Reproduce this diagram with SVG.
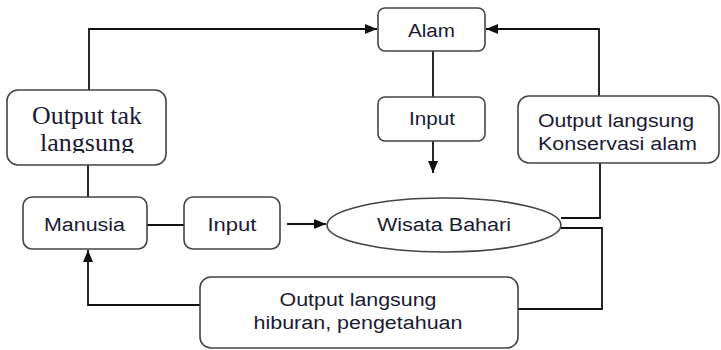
<svg xmlns="http://www.w3.org/2000/svg" width="721" height="350" viewBox="0 0 721 350">
<style>
.box{fill:#fff;stroke:#444;stroke-width:1.6}
.ln{fill:none;stroke:#111;stroke-width:1.8}
.t{font-family:"Liberation Sans",Arial,sans-serif;font-size:18px;fill:#1a1a33;text-anchor:middle}
.s{font-family:"Liberation Serif","Times New Roman",serif;font-size:26px;fill:#1a1a33;text-anchor:middle}
</style>
<defs>
<marker id="ah" viewBox="0 0 12 10" refX="12" refY="5" markerWidth="12" markerHeight="10" markerUnits="userSpaceOnUse" orient="auto">
<path d="M0,0 L12,5 L0,10 Z" fill="#111"/>
</marker>
<clipPath id="clipOT"><rect x="0" y="85" width="180" height="68"/></clipPath>
</defs>
<rect width="721" height="350" fill="#fff"/>
<g id="connectors">
<path class="ln" d="M89,90 V29 H377" marker-end="url(#ah)"/>
<path class="ln" d="M88,197 V165"/>
<path class="ln" d="M433,51 V97"/>
<path class="ln" d="M433,141 V173" marker-end="url(#ah)"/>
<path class="ln" d="M599,96 V29 H486" marker-end="url(#ah)"/>
<path class="ln" d="M561,218 H600 V163"/>
<path class="ln" d="M561,228 H602 V309 H518"/>
<path class="ln" d="M200,305 H88 V250" marker-end="url(#ah)"/>
<path class="ln" d="M147,225 H184"/>
<path class="ln" d="M287,224 H326" marker-end="url(#ah)"/>
</g>
<g id="alam">
<rect class="box" x="378" y="8" width="107" height="43" rx="7"/>
<text class="t" x="431.5" y="37" textLength="47" lengthAdjust="spacingAndGlyphs">Alam</text>
</g>
<g id="input-top">
<rect class="box" x="378" y="97" width="107" height="44" rx="7"/>
<text class="t" x="432" y="125" textLength="46" lengthAdjust="spacingAndGlyphs">Input</text>
</g>
<g id="output-tak-langsung">
<rect class="box" x="7" y="90" width="159" height="75" rx="11"/>
<g clip-path="url(#clipOT)">
<text class="s" x="87" y="124" textLength="110" lengthAdjust="spacingAndGlyphs">Output tak</text>
<text class="s" x="87" y="151">langsung</text>
</g>
</g>
<g id="output-konservasi">
<rect class="box" x="518" y="96" width="201" height="67" rx="11"/>
<text class="t" x="616" y="127" textLength="156" lengthAdjust="spacingAndGlyphs">Output langsung</text>
<text class="t" x="617.5" y="150" textLength="159" lengthAdjust="spacingAndGlyphs">Konservasi alam</text>
</g>
<g id="manusia">
<rect class="box" x="23" y="197" width="124" height="52" rx="9"/>
<text class="t" x="84.5" y="231" textLength="81" lengthAdjust="spacingAndGlyphs">Manusia</text>
</g>
<g id="input-mid">
<rect class="box" x="184" y="197" width="96" height="52" rx="9"/>
<text class="t" x="232" y="231" textLength="49" lengthAdjust="spacingAndGlyphs">Input</text>
</g>
<g id="wisata-bahari">
<ellipse class="box" cx="444" cy="225" rx="117" ry="27"/>
<text class="t" x="444" y="231" textLength="134" lengthAdjust="spacingAndGlyphs">Wisata Bahari</text>
</g>
<g id="output-hiburan">
<rect class="box" x="200" y="277" width="318" height="71" rx="11"/>
<text class="t" x="358" y="306" textLength="157" lengthAdjust="spacingAndGlyphs">Output langsung</text>
<text class="t" x="358" y="329" textLength="209" lengthAdjust="spacingAndGlyphs">hiburan, pengetahuan</text>
</g>
</svg>
